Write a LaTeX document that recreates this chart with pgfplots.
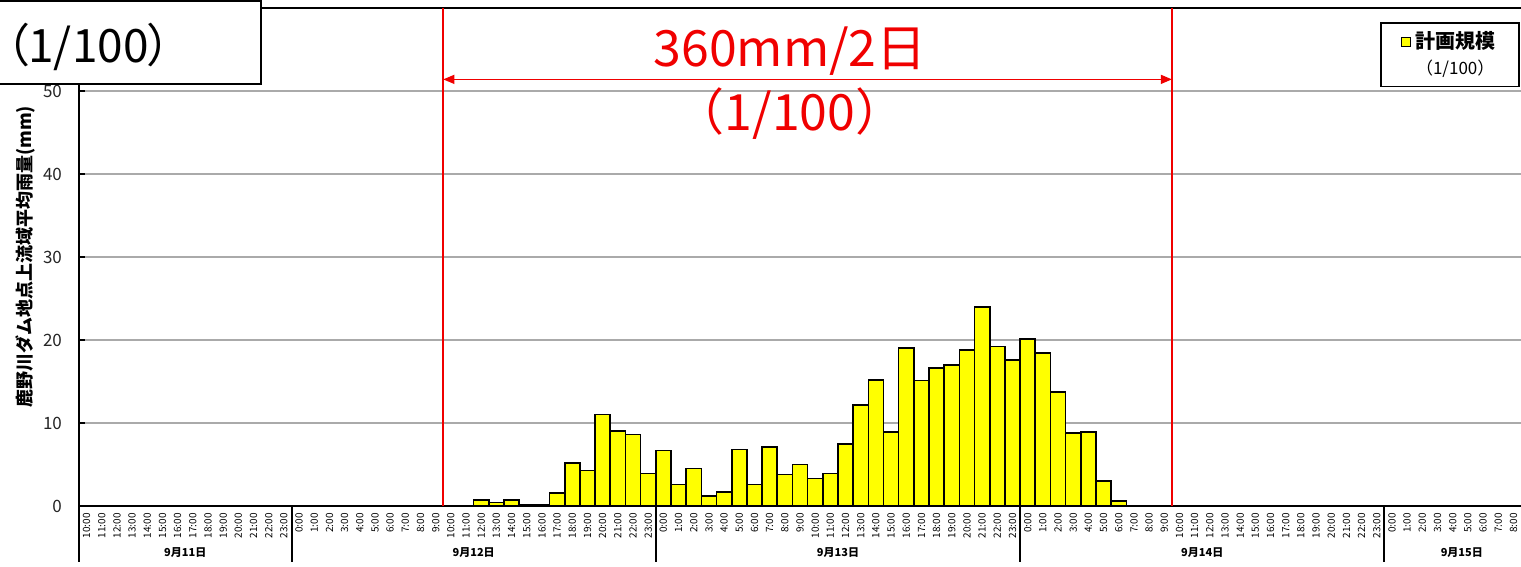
\documentclass[border=0pt]{standalone}
\usepackage{pgfplots}
\pgfplotsset{compat=1.18}
\usepackage{pgfplotstable}
\usepackage{fontspec}
\setmainfont{Noto Sans CJK JP}
\usetikzlibrary{arrows.meta}
\definecolor{barY}{RGB}{255,255,0}
\definecolor{gridG}{RGB}{170,170,170}
\definecolor{annRed}{RGB}{240,0,0}

% hourly basin-average rainfall, slot centre = index + 0.5 (index 0 = 9/11 10:00)
\pgfplotstableread{
x y
26.5 0.7
27.5 0.4
28.5 0.7
29.5 0.15
30.5 0.15
31.5 1.6
32.5 5.2
33.5 4.3
34.5 11.0
35.5 9.0
36.5 8.6
37.5 3.9
38.5 6.7
39.5 2.6
40.5 4.5
41.5 1.2
42.5 1.7
43.5 6.8
44.5 2.6
45.5 7.1
46.5 3.8
47.5 5.0
48.5 3.3
49.5 3.9
50.5 7.5
51.5 12.2
52.5 15.2
53.5 8.9
54.5 19.0
55.5 15.1
56.5 16.6
57.5 17.0
58.5 18.8
59.5 24.0
60.5 19.2
61.5 17.6
62.5 20.1
63.5 18.4
64.5 13.7
65.5 8.8
66.5 8.9
67.5 3.0
68.5 0.6
}\rain

\begin{document}
\begin{tikzpicture}
\begin{axis}[
  name=ax,
  scale only axis,
  width=721pt, height=249pt,
  xmin=0, xmax=95, ymin=0, ymax=60,
  clip=false,
  axis x line*=box, axis y line*=left,
  axis line style={black, line width=1pt},
  ytick={0,10,20,30,40,50},
  ymajorgrids,
  grid style={gridG, line width=0.75pt},
  tick align=inside,
  major tick length=3pt,
  ytick style={black, line width=0.8pt},
  yticklabel style={font=\fontsize{8.5}{9}\selectfont, xshift=-5pt, text=black!85},
  /pgf/number format/assume math mode=true,
  xtick={0.5,1.5,...,94.5},
  xtick style={draw=none},
  xticklabels={10:00,11:00,12:00,13:00,14:00,15:00,16:00,17:00,18:00,19:00,20:00,21:00,22:00,23:00,
    0:00,1:00,2:00,3:00,4:00,5:00,6:00,7:00,8:00,9:00,10:00,11:00,12:00,13:00,14:00,15:00,16:00,17:00,18:00,19:00,20:00,21:00,22:00,23:00,
    0:00,1:00,2:00,3:00,4:00,5:00,6:00,7:00,8:00,9:00,10:00,11:00,12:00,13:00,14:00,15:00,16:00,17:00,18:00,19:00,20:00,21:00,22:00,23:00,
    0:00,1:00,2:00,3:00,4:00,5:00,6:00,7:00,8:00,9:00,10:00,11:00,12:00,13:00,14:00,15:00,16:00,17:00,18:00,19:00,20:00,21:00,22:00,23:00,
    0:00,1:00,2:00,3:00,4:00,5:00,6:00,7:00,8:00},
  xticklabel style={rotate=90, anchor=east, inner sep=0pt, font=\fontsize{5}{5}\selectfont},
  xticklabel shift=3.5pt,
  ylabel={\bfseries 鹿野川ダム地点上流域平均雨量(mm)},
  ylabel style={at={(axis description cs:-0.0374,0.5)}, anchor=center, font=\fontsize{9}{10}\selectfont},
  legend style={at={(axis description cs:0.9993,0.972)}, anchor=north east,
    draw=black, line width=0.8pt, font=\fontsize{10}{12}\selectfont,
    inner xsep=10pt, inner ysep=2.5pt, row sep=0pt},
  legend cell align=center,
]
\addplot[ybar, bar width=1, fill=barY, draw=black, line width=0.8pt,
  legend image code/.code={\draw[fill=barY, draw=black, line width=0.6pt] (0pt,-2.2pt) rectangle (4.5pt,2.3pt);}]
  table[x=x, y=y] {\rain};
\addlegendentry{\textbf{計画規模}}
\addlegendimage{empty legend}
\addlegendentry{\fontsize{8.5}{9}\selectfont（1/100）}

% day separators
\draw[black, line width=1pt] (axis cs:0,0) -- ++(0,-28pt);
\draw[black, line width=1pt] (axis cs:14,0) -- ++(0,-28pt);
\draw[black, line width=1pt] (axis cs:38,0) -- ++(0,-28pt);
\draw[black, line width=1pt] (axis cs:62,0) -- ++(0,-28pt);
\draw[black, line width=1pt] (axis cs:86,0) -- ++(0,-28pt);
% day labels
\node[font=\bfseries\fontsize{5.5}{6}\selectfont] at ([yshift=-23.5pt]axis cs:7,0) {9月11日};
\node[font=\bfseries\fontsize{5.5}{6}\selectfont] at ([yshift=-23.5pt]axis cs:26,0) {9月12日};
\node[font=\bfseries\fontsize{5.5}{6}\selectfont] at ([yshift=-23.5pt]axis cs:50,0) {9月13日};
\node[font=\bfseries\fontsize{5.5}{6}\selectfont] at ([yshift=-23.5pt]axis cs:74,0) {9月14日};
\node[font=\bfseries\fontsize{5.5}{6}\selectfont] at ([yshift=-23.5pt]axis cs:91.1,0) {9月15日};

% red annotation
\draw[draw=annRed, line width=1pt] (axis cs:24,0) -- (axis cs:24,60);
\draw[draw=annRed, line width=1pt] (axis cs:72,0) -- (axis cs:72,60);
\draw[draw=annRed, fill=annRed, line width=0.6pt, {Triangle[length=5.5pt,width=4.5pt]}-{Triangle[length=5.5pt,width=4.5pt]}]
  (axis cs:24,51.4) -- (axis cs:72,51.4);
\node[text=annRed, anchor=base, inner sep=0pt, font=\fontsize{25}{25}\selectfont] at (axis cs:46.85,52.9) {360mm/2日};
\node[text=annRed, anchor=base, inner sep=0pt, font=\fontsize{25}{25}\selectfont] at (axis cs:46.85,45.3) {（1/100）};
\end{axis}

% title box at top left
\draw[black, line width=1pt, fill=white] ([xshift=-45pt,yshift=3.5pt]ax.north west) rectangle ([xshift=91pt,yshift=-38pt]ax.north west);
\node[anchor=base west, inner sep=0pt, font=\fontsize{23}{23}\selectfont\addfontfeatures{RawFeature=+palt}] at ([xshift=-37pt,yshift=-27.5pt]ax.north west) {（1/100）};

\pgfresetboundingbox
\useasboundingbox ([xshift=-39.5pt,yshift=-30pt]ax.south west) rectangle ([yshift=4pt]ax.north east);
\end{tikzpicture}
\end{document}
